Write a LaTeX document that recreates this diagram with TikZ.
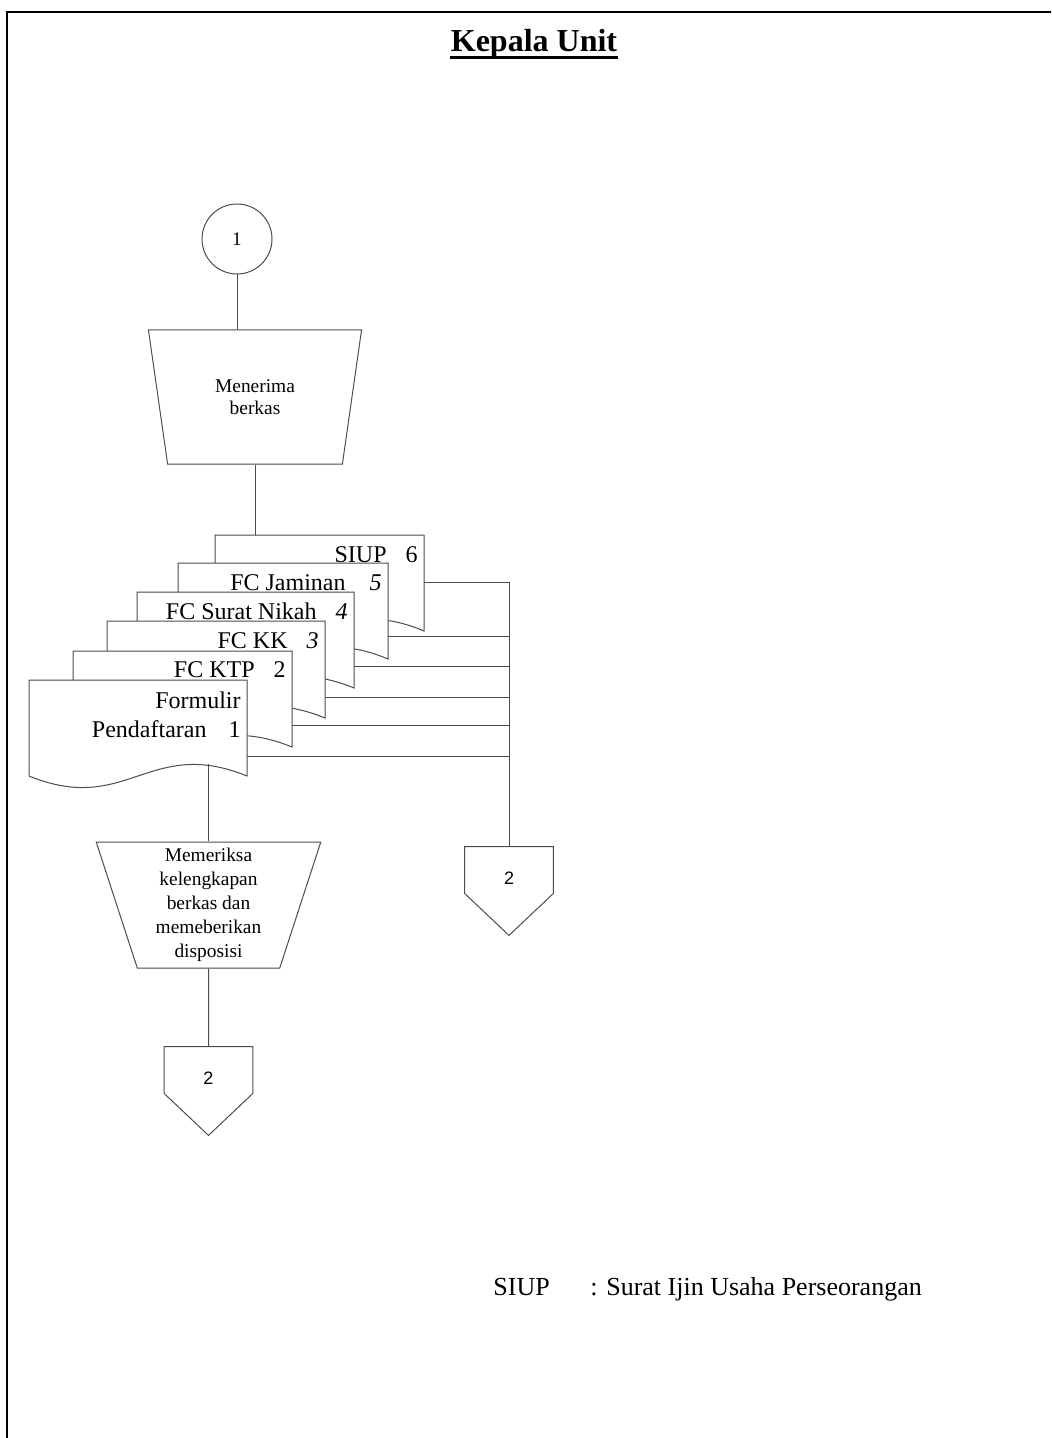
\documentclass[tikz,border=0pt]{standalone}
\usepackage{fontspec}
\setmainfont{Liberation Serif}
\setsansfont{Liberation Sans}
\usetikzlibrary{shapes.geometric,calc}

\colorlet{lineclr}{black!70}

% one sheet of the document stack: name, left, top, right, bottom, baseline offset, label
\newcommand{\docsheet}[7]{%
  \coordinate (#1-nw) at (#2,#3);
  \coordinate (#1-ne) at (#4,#3);
  \coordinate (#1-se) at (#4,#5);
  \coordinate (#1-sw) at (#2,#5);
  \coordinate (#1-wave) at ({#4-0.175*(#4-#2)},{#5-12});
  \filldraw[sheet] (#1-sw) -- (#1-nw) -- (#1-ne) -- (#1-se)
    .. controls ({#4-0.45*(#4-#2)},{#5-40}) and ({#2+0.45*(#4-#2)},{#5+40}) .. (#1-sw) -- cycle;
  \node[doclbl] (#1-lbl) at ({#4-6},{#3+#6}) {#7};
}

\begin{document}
\begin{tikzpicture}[
  x=0.5pt, y=-0.5pt,
  flow/.style={draw=lineclr, line width=0.5pt},
  sheet/.style={flow, fill=white},
  conn/.style={flow, circle, minimum size=35pt, inner sep=0pt, font=\fontsize{9.6}{10}\selectfont},
  manual/.style={flow, trapezium, shape border rotate=180, trapezium stretches=true, align=center, inner sep=0pt},
  offpage/.style={minimum width=44pt, minimum height=23pt, inner sep=0pt, text height=14.5pt, text depth=0pt, font=\sffamily\fontsize{9}{9}\selectfont},
  doclbl/.style={anchor=base east, align=right, inner sep=0pt, font=\fontsize{12}{14.5}\selectfont},
  note/.style={anchor=base west, inner sep=0pt, font=\fontsize{13}{15}\selectfont}
]
  \useasboundingbox (0,0) rectangle (1051,1438);
  \begin{scope}
    \clip (0,0) rectangle (1051,1438);
    \draw[line width=1.1pt] (7,12) rectangle (1070,1460);
  \end{scope}

  \node[anchor=base, inner sep=0pt, font=\fontsize{16}{19}\selectfont\bfseries] (title) at (534,52) {Kepala Unit};
  \draw[line width=1.4pt] ($(title.base west)+(0,5.5)$) -- ($(title.base east)+(0,5.5)$);

  \node[conn] (c1) at (237,239) {1};
  \node[manual, trapezium left angle=76, trapezium right angle=76, minimum width=107pt, minimum height=67pt,
        font=\fontsize{9.7}{11}\selectfont] (terima) at (255,397) {Menerima\\berkas};

  \docsheet{d6}{215}{535}{424}{631}{27}{SIUP\hspace{9.5pt}6}
  \docsheet{d5}{178}{563}{388}{659}{27}{FC Jaminan\hspace{12pt}\textit{5}}
  \docsheet{d4}{137}{592}{354}{688}{27}{FC Surat Nikah\hspace{9.5pt}\textit{4}}
  \docsheet{d3}{107}{621}{325}{718}{27}{FC KK\hspace{9.5pt}\textit{3}}
  \docsheet{d2}{73}{651}{292}{747}{26}{FC KTP\hspace{9.5pt}2}
  \docsheet{d1}{29}{680}{247}{776}{57}{Formulir\\Pendaftaran\hspace{11pt}1}

  \node[manual, trapezium left angle=75, trapezium right angle=75, minimum width=112.5pt, minimum height=63pt,
        font=\fontsize{9.7}{12}\selectfont] (periksa) at (208.5,905) {Memeriksa\\kelengkapan\\berkas dan\\memeberikan\\disposisi};

  \node[offpage] (off2a) at (208.5,1070) {2};
  \node[offpage] (off2b) at (509,870) {2};
  \foreach \o in {off2a, off2b}
    \draw[flow] (\o.south west) -- (\o.north west) -- (\o.north east) -- (\o.south east)
      -- ($(\o.south)+(0,42)$) -- cycle;

  \draw[flow] (c1) -- (c1 |- terima.north);
  \draw[flow] (terima.south) -- (terima.south |- d6-nw);
  \draw[flow] (d1-wave) -- (d1-wave |- periksa.north);
  \draw[flow] (periksa.south) -- (off2a.north);

  \foreach \d/\y in {d6/582, d5/636, d4/666, d3/697, d2/725, d1/756} {
    \coordinate (b-\d) at (509,\y);
    \draw[flow] (b-\d -| \d-ne) -- (b-\d);
  }
  \draw[flow] (b-d6) -- (off2b.north);

  \node[note] (siup) at (493,1295) {SIUP};
  \node[note] (siupdef) at (590,1295) {: Surat Ijin Usaha Perseorangan};
\end{tikzpicture}
\end{document}
